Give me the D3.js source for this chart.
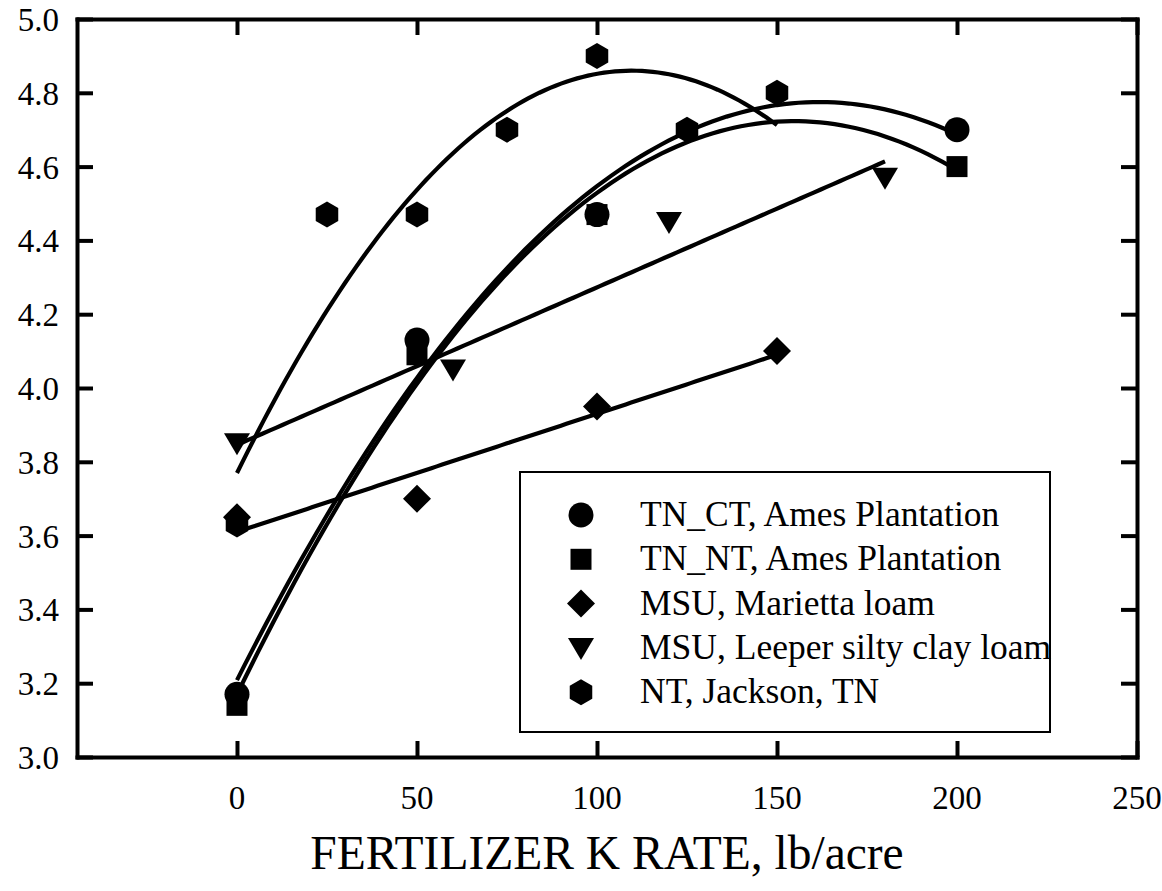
<!DOCTYPE html>
<html>
<head>
<meta charset="utf-8">
<script src="https://cdn.jsdelivr.net/npm/d3@7/dist/d3.min.js"></script>
</head>
<body style="margin:0">
<svg id="chart" width="1162" height="891"></svg>
<script>
// ---- Data ----
const seriesNames = [
  "TN_CT, Ames Plantation",
  "TN_NT, Ames Plantation",
  "MSU, Marietta loam",
  "MSU, Leeper silty clay loam",
  "NT, Jackson, TN"
];
const ctX = [0, 50, 100, 200];
const ctY = [3.17, 4.13, 4.47, 4.70];
const ntX = [0, 50, 100, 200];
const ntY = [3.14, 4.09, 4.47, 4.60];
const marX = [0, 50, 100, 150];
const marY = [3.65, 3.70, 3.95, 4.10];
const leeX = [0, 60, 120, 180];
const leeY = [3.85, 4.05, 4.45, 4.57];
const jacX = [0, 25, 50, 75, 100, 125, 150];
const jacY = [3.63, 4.47, 4.47, 4.70, 4.90, 4.70, 4.80];
const fitDegree = [2, 2, 1, 1, 2];
const xTicks = [0, 50, 100, 150, 200, 250];
const yTicks = [3.0, 3.2, 3.4, 3.6, 3.8, 4.0, 4.2, 4.4, 4.6, 4.8, 5.0];
const xTitle = "FERTILIZER K RATE, lb/acre";

const seriesX = [ctX, ntX, marX, leeX, jacX];
const seriesY = [ctY, ntY, marY, leeY, jacY];
const shapes = ["circle", "square", "diamond", "triangleDown", "hexagon"];

// ---- Layout ----
const L = 77, R = 1137, T = 19, B = 757;
const svg = d3.select("#chart");
const x = d3.scaleLinear().domain([-44.44, 250]).range([L, R]);
const y = d3.scaleLinear().domain([3.0, 5.0]).range([B, T]);

function polyfit(xs, ys, deg) {
  const n = deg + 1;
  const A = Array.from({length: n}, () => new Array(n + 1).fill(0));
  for (let k = 0; k < xs.length; k++) {
    for (let i = 0; i < n; i++) {
      for (let j = 0; j < n; j++) A[i][j] += Math.pow(xs[k], i + j);
      A[i][n] += ys[k] * Math.pow(xs[k], i);
    }
  }
  for (let i = 0; i < n; i++) {
    let p = i;
    for (let r = i + 1; r < n; r++) if (Math.abs(A[r][i]) > Math.abs(A[p][i])) p = r;
    [A[i], A[p]] = [A[p], A[i]];
    for (let r = 0; r < n; r++) {
      if (r === i) continue;
      const f = A[r][i] / A[i][i];
      for (let c = i; c <= n; c++) A[r][c] -= f * A[i][c];
    }
  }
  return A.map((row, i) => row[n] / row[i]);
}

function symbolPath(shape) {
  switch (shape) {
    case "circle": return d3.arc()({innerRadius: 0, outerRadius: 12.5, startAngle: 0, endAngle: 2 * Math.PI});
    case "square": return "M-10.5,-10.5H10.5V10.5H-10.5Z";
    case "diamond": return "M0,-14L14,0L0,14L-14,0Z";
    case "triangleDown": return "M-13,-10L13,-10L0,12Z";
    case "hexagon": {
      const r = 13;
      const pts = d3.range(6).map(i => {
        const a = Math.PI / 2 + i * Math.PI / 3;
        return [r * Math.cos(a), r * Math.sin(a)];
      });
      return "M" + pts.map(p => p.join(",")).join("L") + "Z";
    }
  }
}

// ---- Fit curves ----
const line = d3.line().x(d => x(d[0])).y(d => y(d[1]));
seriesX.forEach((xs, i) => {
  const coef = polyfit(xs, seriesY[i], fitDegree[i]);
  const x0 = d3.min(xs), x1 = d3.max(xs);
  const pts = d3.range(0, 101).map(k => {
    const xv = x0 + (x1 - x0) * k / 100;
    const yv = coef.reduce((s, c, p) => s + c * Math.pow(xv, p), 0);
    return [xv, yv];
  });
  svg.append("path").attr("d", line(pts))
    .attr("fill", "none").attr("stroke", "#000").attr("stroke-width", 4.2);
});

// ---- Markers ----
seriesX.forEach((xs, i) => {
  svg.append("g").selectAll("path").data(xs.map((v, k) => [v, seriesY[i][k]]))
    .join("path")
    .attr("d", symbolPath(shapes[i]))
    .attr("transform", d => `translate(${x(d[0])},${y(d[1])})`)
    .attr("fill", "#000");
});

// ---- Axes frame ----
const tickLen = 16;
const axisG = svg.append("g");
axisG.append("g").attr("transform", `translate(0,${B})`)
  .call(d3.axisBottom(x).tickValues(xTicks).tickSizeInner(-tickLen).tickSizeOuter(0).tickFormat(""));
axisG.append("g").attr("transform", `translate(0,${T})`)
  .call(d3.axisTop(x).tickValues(xTicks).tickSizeInner(-tickLen).tickSizeOuter(0).tickFormat(""));
axisG.append("g").attr("transform", `translate(${L},0)`)
  .call(d3.axisLeft(y).tickValues(yTicks).tickSizeInner(-tickLen).tickSizeOuter(0).tickFormat(""));
axisG.append("g").attr("transform", `translate(${R},0)`)
  .call(d3.axisRight(y).tickValues(yTicks).tickSizeInner(-tickLen).tickSizeOuter(0).tickFormat(""));
axisG.selectAll("line,path").attr("stroke-width", 4);
axisG.selectAll("path.domain").attr("stroke-linecap", "square");
axisG.selectAll("text").remove();

// ---- Text ----
const FONT = '"Liberation Serif"';
const txt = svg.append("g");
txt.selectAll("text.yl").data(yTicks).join("text").attr("class", "yl")
  .attr("x", 59).attr("y", d => y(d) + 12)
  .attr("text-anchor", "end").attr("font-size", 33)
  .style("font-family", FONT)
  .text(d => d3.format(".1f")(d));
txt.selectAll("text.xl").data(xTicks).join("text").attr("class", "xl")
  .attr("x", d => x(d)).attr("y", 809)
  .attr("text-anchor", "middle").attr("font-size", 33)
  .style("font-family", FONT)
  .text(d => d);
txt.append("text").attr("x", 607).attr("y", 869)
  .attr("text-anchor", "middle").attr("font-size", 47.5)
  .style("font-family", FONT)
  .text(xTitle);

// ---- Legend ----
const lg = svg.append("g");
lg.append("rect").attr("x", 520).attr("y", 472).attr("width", 530).attr("height", 260)
  .attr("fill", "#fff").attr("stroke", "#000").attr("stroke-width", 2);
seriesNames.forEach((name, i) => {
  const cy = 515 + i * 44.3;
  lg.append("path").attr("d", symbolPath(shapes[i]))
    .attr("transform", `translate(581,${cy})`).attr("fill", "#000");
  lg.append("text").attr("x", 640).attr("y", cy + 11).attr("font-size", 35.5)
    .style("font-family", FONT)
    .text(name);
});
</script>
</body>
</html>
